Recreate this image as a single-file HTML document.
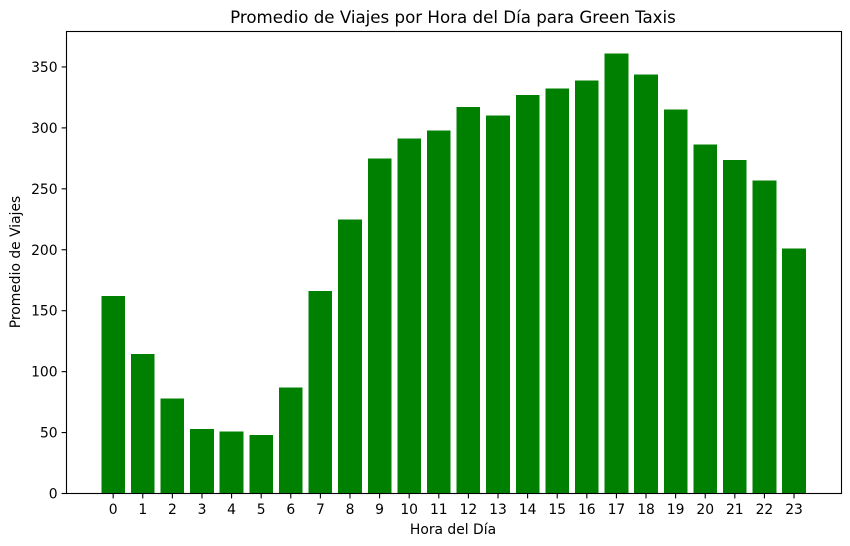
<!DOCTYPE html>
<html lang="es">
<head>
<meta charset="utf-8">
<title>Promedio de Viajes por Hora del Día para Green Taxis</title>
<style>
html,body{margin:0;padding:0;background:#fff;width:850px;height:546px;overflow:hidden}
svg{display:block}
text{font-family:"DejaVu Sans",sans-serif;fill:#000}
</style>
</head>
<body>
<svg id="chart" xmlns="http://www.w3.org/2000/svg" width="850" height="546" viewBox="0 0 850 546">
<rect x="0" y="0" width="850" height="546" fill="#fff"/>
<g id="bars" shape-rendering="crispEdges"></g>
<g id="x-ticks"></g>
<g id="y-ticks"></g>
<rect x="66.5" y="31.5" width="775" height="462" fill="none" stroke="#000" stroke-width="1.1"/>
<text x="453" y="23" text-anchor="middle" style="font-size:16.67px">Promedio de Viajes por Hora del Día para Green Taxis</text>
<text x="453" y="534" text-anchor="middle" style="font-size:13.89px">Hora del Día</text>
<text transform="translate(20 262) rotate(-90)" text-anchor="middle" style="font-size:13.89px">Promedio de Viajes</text>
</svg>
<script>
const hours = ["0","1","2","3","4","5","6","7","8","9","10","11","12","13","14","15","16","17","18","19","20","21","22","23"];
const avgTrips = [162,114.5,78,53,51,48,87,166,225,275,291.5,298,317,310,327,332.5,339,361,344,315,286.5,273.5,257,201];
const yTickValues = [0,50,100,150,200,250,300,350];

const SVG_NS = "http://www.w3.org/2000/svg";
const plot = {left:66.1, right:841.1, top:31.5, bottom:493.5, frameLeft:66.5};
const yMax = 379.1;
function xScale(i){
  const n = hours.length;
  const band = (plot.right - plot.left) / (n - 1 + 0.8 + 2 * 0.05 * (n - 1 + 0.8));
  return plot.left + band * (0.4 + 0.05 * (n - 1 + 0.8)) + band * i;
}
function bandWidth(){
  return xScale(1) - xScale(0);
}
function yScale(v){
  return plot.bottom - (v / yMax) * (plot.bottom - plot.top);
}
const barsG = document.getElementById("bars");
const xG = document.getElementById("x-ticks");
const yG = document.getElementById("y-ticks");

hours.forEach(function(h, i){
  const cx = xScale(i);
  const w = bandWidth() * 0.8;
  const r = document.createElementNS(SVG_NS, "rect");
  
  
  r.setAttribute("x", cx - w / 2);
  r.setAttribute("y", yScale(avgTrips[i]));
  r.setAttribute("width", w);
  r.setAttribute("height", plot.bottom - yScale(avgTrips[i]));
  r.setAttribute("fill", "#008000");
  barsG.appendChild(r);

  const t = document.createElementNS(SVG_NS, "line");
  
  
  t.setAttribute("x1", cx);
  t.setAttribute("x2", cx);
  t.setAttribute("y1", plot.bottom);
  t.setAttribute("y2", plot.bottom + 4.9);
  t.setAttribute("stroke", "#000");
  t.setAttribute("stroke-width", "1.1");
  xG.appendChild(t);

  const l = document.createElementNS(SVG_NS, "text");
  
  
  l.setAttribute("x", cx);
  l.setAttribute("y", 514);
  l.setAttribute("text-anchor", "middle");
  l.style.fontSize = "13.89px";
  l.textContent = h;
  xG.appendChild(l);
});

yTickValues.forEach(function(v){
  const y = yScale(v);
  const t = document.createElementNS(SVG_NS, "line");
  
  
  t.setAttribute("x1", plot.frameLeft - 4.9);
  t.setAttribute("x2", plot.frameLeft);
  t.setAttribute("y1", y);
  t.setAttribute("y2", y);
  t.setAttribute("stroke", "#000");
  t.setAttribute("stroke-width", "1.1");
  yG.appendChild(t);

  const l = document.createElementNS(SVG_NS, "text");
  
  
  l.setAttribute("x", plot.frameLeft - 8.9);
  l.setAttribute("y", y + 5);
  l.setAttribute("text-anchor", "end");
  l.style.fontSize = "13.89px";
  l.textContent = v;
  yG.appendChild(l);
});
</script>
</body>
</html>
